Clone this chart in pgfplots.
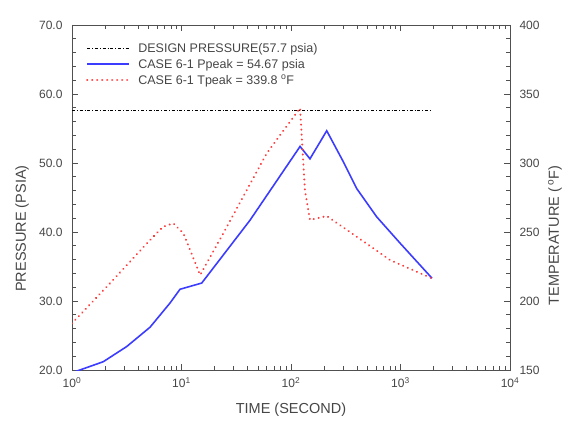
\documentclass[border=0pt]{standalone}
\usepackage{pgfplots}
\pgfplotsset{compat=1.18}
\usetikzlibrary{calc}
\usepackage{fontspec}
\setmainfont{Liberation Sans}
\definecolor{txt}{RGB}{70,70,70}
\definecolor{axc}{RGB}{80,80,80}
\definecolor{pblue}{RGB}{60,60,255}
\definecolor{tred}{RGB}{255,60,60}
\begin{document}
\begin{tikzpicture}
\begin{axis}[
  name=main,
  scale only axis,
  width=438bp, height=345bp,
  xmode=log, xmin=1, xmax=10000,
  ymin=20, ymax=70,
  xtick={1,10,100,1000,10000},
  xticklabels={10\textsuperscript{0},10\textsuperscript{1},10\textsuperscript{2},10\textsuperscript{3},10\textsuperscript{4}},
  ytick={20,30,40,50,60,70},
  minor ytick={22,24,...,68},
  yticklabel style={/pgf/number format/fixed, /pgf/number format/fixed zerofill, /pgf/number format/precision=1},
  /pgf/number format/assume math mode=true,
  ytick pos=left,
  major tick length=0.22cm, minor tick length=0.13cm,
  axis line style={axc, line width=0.8pt},
  tick style={axc, line width=0.7pt},
  tick label style={font=\fontsize{12bp}{14bp}\selectfont, text=txt},
  xticklabel style={yshift=-4bp},
  yticklabel style={xshift=-6bp},
  xlabel={TIME (SECOND)},
  ylabel={PRESSURE (PSIA)},
  label style={font=\fontsize{14.5bp}{16bp}\selectfont, text=txt},
  xlabel style={at={(axis description cs:0.5,0)}, anchor=center, yshift=-40bp},
  ylabel style={at={(axis description cs:-0.114,0.41)}, anchor=center},
  legend style={at={(axis description cs:0.025,0.96)}, anchor=north west, draw=none, fill=none,
    font=\fontsize{12.5bp}{14bp}\selectfont, text=txt, row sep=1.5bp,
    nodes={inner xsep=8bp}},
  legend cell align=left,
  legend image code/.code={\draw[#1] (0bp,0bp) -- (42bp,0bp);},
  clip=true,
]
\addplot[black, line width=0.7pt, dash dot] coordinates {(1,57.7) (1940,57.7)};
\addlegendentry{DESIGN PRESSURE(57.7 psia)}
\addplot[pblue, line width=1.6pt] coordinates {
(1,19.6) (1.18,20.0) (1.93,21.2) (3.16,23.4) (5.16,26.2) (7.85,29.7) (9.69,31.7)
(15.3,32.6) (42.2,41.7) (121,52.4) (149,50.6) (212,54.67) (300,50.2) (398,46.3)
(606,42.2) (989,38.4) (1940,33.3)};
\addlegendentry{CASE 6-1 Ppeak = 54.67 psia}
\addlegendimage{tred, line width=2.2pt, line cap=round, dash pattern=on 0.01pt off 5pt}
\addlegendentry{CASE 6-1 Tpeak = 339.8 \textsuperscript{o}F}
\end{axis}
\begin{axis}[
  scale only axis,
  width=438bp, height=345bp,
  xmode=log, xmin=1, xmax=10000,
  ymin=150, ymax=400,
  hide x axis,
  axis y line*=right,
  ytick={150,200,250,300,350,400},
  minor ytick={160,170,...,390},
  major tick length=0.22cm, minor tick length=0.13cm,
  axis line style={axc, line width=0.8pt},
  tick style={axc, line width=0.7pt},
  /pgf/number format/assume math mode=true,
  tick label style={font=\fontsize{12bp}{14bp}\selectfont, text=txt},
  yticklabel style={xshift=6bp},
  ylabel={TEMPERATURE (\,\textsuperscript{o}F)},
  label style={font=\fontsize{14.5bp}{16bp}\selectfont, text=txt},
  ylabel style={at={(axis description cs:1.103,0.39)}, anchor=center},
  clip=true,
]
\addplot[tred, line width=2.2pt, line cap=round, dash pattern=on 0.01pt off 5pt] coordinates {
(1,183.8) (2.22,212.8) (5.16,244.2) (6.8,253.8) (8.42,256.3) (10.4,249.1) (14.8,218.8)
(24.1,249.1) (60,307) (121,339.8) (134,280.4) (149,258.7) (212,261.6) (398,246.6)
(802,229.7) (1940,216.4)};
\end{axis}
\pgfresetboundingbox
\path[use as bounding box] (main.south west) ++(-72bp,-58bp) rectangle ($(main.north east)+(66bp,25bp)$);
\end{tikzpicture}
\end{document}
